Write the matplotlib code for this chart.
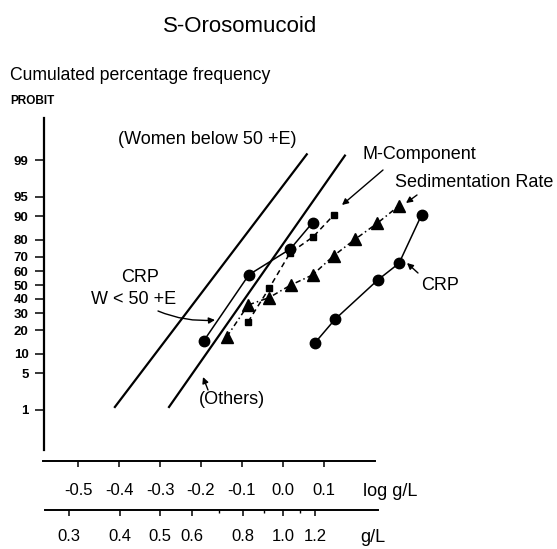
import numpy as np
import matplotlib as mpl
mpl.use('Agg')
import matplotlib.pyplot as plt
from matplotlib.ticker import FixedLocator, NullLocator, NullFormatter
from statistics import NormalDist

plt.rcParams['font.family'] = ['Liberation Sans', 'DejaVu Sans']

# straight reference lines (log g/L, cumulative %)
women_log = [-0.410, 0.058]
women_pct = [1.16, 99.25]
others_log = [-0.278, 0.151]
others_pct = [1.16, 99.2]

# CRP, women below 50 + E
crp_w_log = [-0.193, -0.083, 0.018, 0.072]
crp_w_pct = [15.0, 57.6, 74.9, 87.7]

# M-component
mcomp_log = [-0.085, -0.033, 0.017, 0.074, 0.124]
mcomp_pct = [24.7, 48.0, 72.4, 81.6, 90.4]

# sedimentation rate
sed_log = [-0.137, -0.085, -0.034, 0.019, 0.072, 0.124, 0.176, 0.230, 0.283]
sed_pct = [16.8, 35.5, 40.7, 50.0, 57.4, 70.8, 80.3, 87.5, 93.0]

# CRP, others
crp_o_log = [0.078, 0.127, 0.231, 0.283, 0.338]
crp_o_pct = [14.1, 26.2, 53.7, 65.7, 90.4]

probit_ticks = [1, 5, 10, 20, 30, 40, 50, 60, 70, 80, 90, 95, 99]
log_ticks = [-0.5, -0.4, -0.3, -0.2, -0.1, 0.0, 0.1]
log_labels = ['-0.5', '-0.4', '-0.3', '-0.2', '-0.1', '0.0', '0.1']
gl_ticks = [0.3, 0.4, 0.5, 0.6, 0.8, 1.0, 1.2]
gl_labels = ['0.3', '0.4', '0.5', '0.6', '0.8', '1.0', '1.2']
gl_minor = [0.7, 0.9, 1.1]

nd = NormalDist()


def to_probit(p):
    p = np.clip(np.asarray(p, dtype=float), 1e-6, 100 - 1e-6)
    return np.vectorize(nd.inv_cdf, otypes=[float])(p / 100.0)


def from_probit(z):
    return np.vectorize(nd.cdf, otypes=[float])(np.asarray(z, dtype=float)) * 100.0


W, H = 557, 549
fig = plt.figure(figsize=(W / 100, H / 100), dpi=100)

# main probit axes
ax = fig.add_axes([44 / W, (H - 450) / H, (W - 44) / W, 332 / H])
ax.patch.set_visible(False)
ax.set_yscale('function', functions=(to_probit, from_probit))
ax.set_xlim(-0.5829, 0.6683)
ax.set_ylim(0.1067, 99.906)
for s in ['top', 'right', 'bottom']:
    ax.spines[s].set_visible(False)
ax.spines['left'].set_linewidth(1.6)
ax.set_xticks([])
ax.yaxis.set_major_locator(FixedLocator(probit_ticks))
ax.yaxis.set_minor_locator(NullLocator())
ax.set_yticklabels([str(t) for t in probit_ticks], fontsize=9.5, fontweight='bold')
ax.tick_params(axis='y', direction='out', length=6.5, width=1.1, pad=4.5)

# data
ax.plot(women_log, women_pct, color='black', lw=1.6)
ax.plot(others_log, others_pct, color='black', lw=1.6)
ax.plot(crp_w_log, crp_w_pct, color='black', lw=1.1, marker='o', ms=7.5)
ax.plot(mcomp_log, mcomp_pct, color='black', lw=1.1, ls=(0, (3.5, 2.5)),
        marker='s', ms=5)
ax.plot(sed_log, sed_pct, color='black', lw=1.1, ls=(0, (3.5, 2, 1, 2)),
        marker='^', ms=8)
ax.plot(crp_o_log, crp_o_pct, color='black', lw=1.1, marker='o', ms=7.5)

# log g/L axis
ax_log = fig.add_axes([43 / W, (H - 461) / H, 332 / W, 0.001])
ax_log.patch.set_visible(False)
for s in ['top', 'right', 'left']:
    ax_log.spines[s].set_visible(False)
ax_log.spines['bottom'].set_linewidth(1.4)
ax_log.set_yticks([])
ax_log.set_xlim((43 - 283) / 410, (375 - 283) / 410)
ax_log.set_xticks(log_ticks)
ax_log.set_xticklabels(log_labels, fontsize=12)
ax_log.tick_params(axis='x', direction='out', length=4.5, width=1.1, pad=11)

# g/L axis
ax_g = fig.add_axes([45 / W, (H - 510) / H, 333 / W, 0.001])
ax_g.patch.set_visible(False)
for s in ['top', 'right', 'left']:
    ax_g.spines[s].set_visible(False)
ax_g.spines['bottom'].set_linewidth(1.4)
ax_g.set_yticks([])
ax_g.set_xscale('log')
ax_g.set_xlim(10 ** ((45 - 283) / 410), 10 ** ((378 - 283) / 410))
ax_g.xaxis.set_major_locator(FixedLocator(gl_ticks))
ax_g.xaxis.set_minor_locator(FixedLocator(gl_minor))
ax_g.xaxis.set_minor_formatter(NullFormatter())
ax_g.set_xticklabels(gl_labels, fontsize=12)
ax_g.tick_params(axis='x', which='major', direction='out', length=4.5, width=1.1, pad=9)
ax_g.tick_params(axis='x', which='minor', direction='out', length=2.5, width=1.0)


def fpx(x, y):
    return (x / W, 1 - y / H)


# titles
fig.text(*fpx(240, 26), 'S-Orosomucoid', fontsize=16, ha='center', va='center')
fig.text(*fpx(10, 76), 'Cumulated percentage frequency', fontsize=12.7, ha='left', va='center')
fig.text(*fpx(10, 101), 'PROBIT', fontsize=8.5, fontweight='bold', ha='left', va='center')
fig.text(*fpx(390, 491), 'log g/L', fontsize=13, ha='center', va='center')
fig.text(*fpx(373, 538), 'g/L', fontsize=13, ha='center', va='center')

# annotations
arrow = dict(arrowstyle='-|>', color='black', lw=1.0, mutation_scale=9,
             shrinkA=0, shrinkB=0)
fig.text(*fpx(118, 140), '(Women below 50 +E)', fontsize=13, ha='left', va='center')
fig.text(*fpx(363, 155), 'M-Component', fontsize=13, ha='left', va='center')
fig.text(*fpx(395, 183), 'Sedimentation Rate', fontsize=13, ha='left', va='center')
fig.text(*fpx(421, 285), 'CRP', fontsize=13, ha='left', va='center')
fig.text(*fpx(140, 277), 'CRP', fontsize=13, ha='center', va='center')
fig.text(*fpx(134, 300), 'W < 50 +E', fontsize=13, ha='center', va='center')
fig.text(*fpx(232, 400), '(Others)', fontsize=13, ha='center', va='center')

annots = [((383, 170), (342, 205), 'arc3,rad=0'),
          ((417, 195), (406, 203), 'arc3,rad=0'),
          ((418, 273), (407, 263), 'arc3,rad=0'),
          ((158, 311), (215, 320), 'arc3,rad=0.12'),
          ((208, 390), (203, 377), 'arc3,rad=0')]
for start, end, cs in annots:
    ax.annotate('', xy=(end[0], H - end[1]), xycoords='figure pixels',
                xytext=(start[0], H - start[1]), textcoords='figure pixels',
                arrowprops=dict(arrow, connectionstyle=cs))

fig.savefig('out.png', dpi=100)
